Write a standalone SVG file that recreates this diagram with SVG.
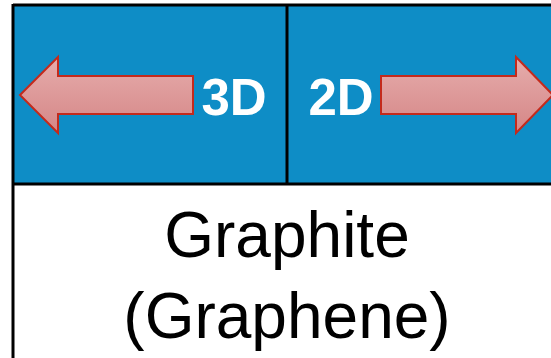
<svg xmlns="http://www.w3.org/2000/svg" width="551" height="358" viewBox="0 0 551 358">
<defs>
<linearGradient id="ag" x1="0" y1="0" x2="0" y2="1">
<stop offset="0" stop-color="#E6ADAC"/>
<stop offset="1" stop-color="#D58686"/>
</linearGradient>
</defs>
<style>
.arrow{fill:url(#ag);stroke:#C42A1C;stroke-width:2;stroke-linejoin:miter}
.lbl{font-family:"Liberation Sans",Arial,sans-serif;font-weight:bold;font-size:51px;fill:#fff;text-anchor:middle}
.big{font-family:"Liberation Sans",Arial,sans-serif;font-size:64px;fill:#000;text-anchor:middle}
.ln{stroke:#000;stroke-width:3;fill:none}
</style>
<rect x="0" y="0" width="551" height="358" fill="#fff"/>
<g id="header">
<rect x="13" y="5" width="540" height="179" fill="#0E8DC6"/>
</g>
<g id="connectors">
<path class="arrow" d="M20,95 L58,57 L58,76 L193,76 L193,114 L58,114 L58,133 Z"/>
<path class="arrow" d="M381,76 L516,76 L516,57 L553,95 L516,133 L516,114 L381,114 Z"/>
</g>
<g id="lines">
<line class="ln" x1="13" y1="5" x2="551" y2="5"/>
<line class="ln" x1="13" y1="4" x2="13" y2="358"/>
<line class="ln" x1="13" y1="184" x2="551" y2="184"/>
<line class="ln" x1="287" y1="5" x2="287" y2="184"/>
</g>
<g id="n3d"><text class="lbl" x="234" y="115">3D</text></g>
<g id="n2d"><text class="lbl" x="341" y="115">2D</text></g>
<g id="graphite">
<text class="big" x="287" y="257">Graphite</text>
<text class="big" x="287" y="338">(Graphene)</text>
</g>
</svg>
